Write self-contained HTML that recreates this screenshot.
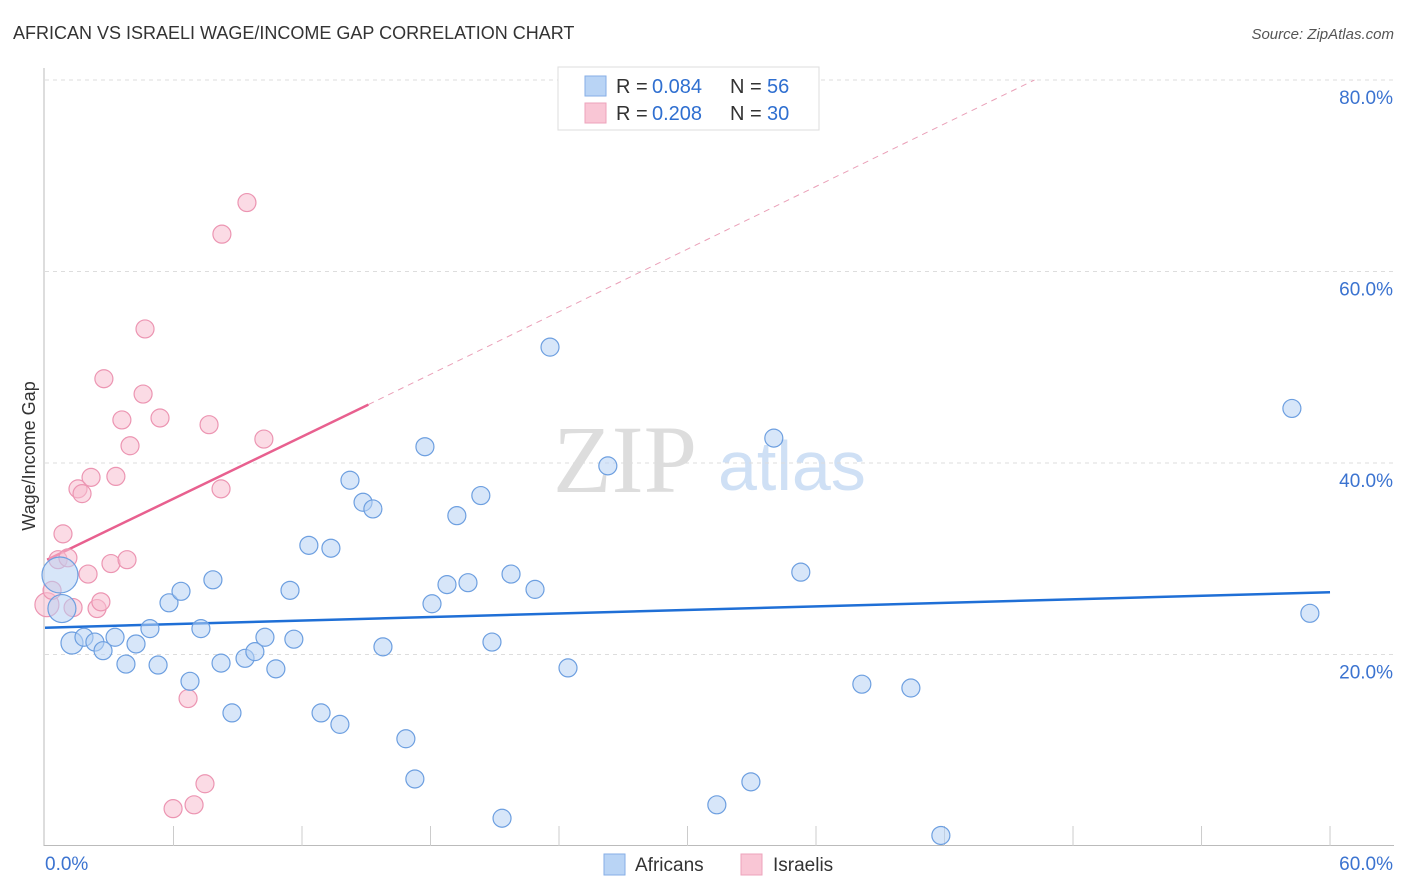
<!DOCTYPE html>
<html><head><meta charset="utf-8">
<style>
body{margin:0;background:#fff;font-family:"Liberation Sans",sans-serif;}
#wrap{position:relative;width:1406px;height:892px;overflow:hidden;}
</style></head><body>
<div id="wrap">
<svg id="svg" width="1406" height="892" xmlns="http://www.w3.org/2000/svg">
<text x="13" y="39" font-size="18" fill="#333">AFRICAN VS ISRAELI WAGE/INCOME GAP CORRELATION CHART</text>
<text x="1394" y="39" font-size="15" fill="#555" font-style="italic" text-anchor="end">Source: ZipAtlas.com</text>
<text x="35" y="456" font-size="18" fill="#333" transform="rotate(-90 35 456)" text-anchor="middle">Wage/Income Gap</text>
<g><text x="553" y="492" font-size="96" fill="#ddd" font-family="Liberation Serif,serif">ZIP</text><text x="718" y="490" font-size="70" fill="#cfe0f5">atlas</text></g>
<g id="grid"></g><g id="axes"></g><g id="lines"></g><g id="pts"></g>
<g>
<rect x="558" y="67" width="261" height="63" fill="#fff" stroke="#ddd"/>
<rect x="585" y="76" width="21" height="20" fill="#b9d4f5" stroke="#86aee6"/>
<rect x="585" y="103" width="21" height="20" fill="#f9c6d5" stroke="#eda3bb"/>
<text x="616" y="93" font-size="20" fill="#333">R = <tspan x="652" fill="#2f6fd0">0.084</tspan><tspan x="730">N = </tspan><tspan x="767" fill="#2f6fd0">56</tspan></text>
<text x="616" y="120" font-size="20" fill="#333">R = <tspan x="652" fill="#2f6fd0">0.208</tspan><tspan x="730">N = </tspan><tspan x="767" fill="#2f6fd0">30</tspan></text>
</g>
<g>
<rect x="604" y="854" width="21" height="21" fill="#b9d4f5" stroke="#86aee6"/>
<text x="635" y="871" font-size="19" fill="#333">Africans</text>
<rect x="741" y="854" width="21" height="21" fill="#f9c6d5" stroke="#eda3bb"/>
<text x="773" y="871" font-size="19" fill="#333">Israelis</text>
</g>
</svg>
</div>
<script>
const xTicks=[0,6,12,18,24,30,36,42,48,54,60];
const yTicks=[20,40,60,80];
const yTickLabels=["20.0%","40.0%","60.0%","80.0%"];
const africanX=[0.70,0.79,1.26,1.82,2.33,2.71,3.27,3.78,4.25,4.90,5.28,5.79,6.35,6.77,7.28,7.84,8.22,8.73,9.34,9.80,10.27,10.78,11.44,11.62,12.32,12.89,13.35,13.77,14.24,14.85,15.31,15.78,16.85,17.27,17.74,18.07,18.77,19.23,19.75,20.35,20.87,21.34,21.76,22.88,23.58,24.42,26.28,31.37,32.96,34.03,35.29,38.14,40.43,41.83,58.22,59.06];
const africanY=[28.3,24.8,21.2,21.8,21.3,20.4,21.8,19.0,21.1,22.7,18.9,25.4,26.6,17.2,22.7,27.8,19.1,13.9,19.6,20.3,21.8,18.5,26.7,21.6,31.4,13.9,31.1,12.7,38.2,35.9,35.2,20.8,11.2,7.0,41.7,25.3,27.3,34.5,27.5,36.6,21.3,2.9,28.4,26.8,52.1,18.6,39.7,4.3,6.7,42.6,28.6,16.9,16.5,1.1,45.7,24.3];
const israeliX=[0.09,0.33,0.61,0.84,1.07,1.31,1.54,1.73,2.01,2.15,2.43,2.61,2.75,3.08,3.31,3.59,3.83,3.97,4.58,4.67,5.37,5.98,6.68,6.96,7.47,7.66,8.22,8.26,9.43,10.22];
const israeliY=[25.2,26.7,29.9,32.6,30.1,24.9,37.3,36.8,28.4,38.5,24.8,25.5,48.8,29.5,38.6,44.5,29.9,41.8,47.2,54.0,44.7,3.9,15.4,4.3,6.5,44.0,37.3,63.9,67.2,42.5];
const africanTrend=[22.8,26.5];
const israeliTrend=[29.9,46.1,80];
const israeliTrendX=[0.1,15.1,46.2];

const X=v=>45+v*21.417, Y=v=>846-v*9.575;
const NS="http://www.w3.org/2000/svg";
function mk(tag,attrs,parent){const e=document.createElementNS(NS,tag);for(const k in attrs)e.setAttribute(k,attrs[k]);document.getElementById(parent).appendChild(e);return e;}
yTicks.forEach((t,i)=>{
  const l=mk('line',{x1:45,x2:1394,y1:Y(t),y2:Y(t),stroke:'#ddd','stroke-dasharray':'4,4'},'grid');
  
  
  const tx=mk('text',{x:1393,y:Y(t)+24,'font-size':19,fill:'#3b73d0','text-anchor':'end'},'grid');
  tx.textContent=yTickLabels[i];
  
  
});
const ax=mk('line',{x1:44,x2:44,y1:68,y2:846,stroke:'#bbb'},'axes');


const bx=mk('line',{x1:44,x2:1394,y1:845.5,y2:845.5,stroke:'#bbb'},'axes');


xTicks.slice(1).forEach(t=>{
  const l=mk('line',{x1:X(t),x2:X(t),y1:826,y2:846,stroke:'#ccc'},'axes');
  
  
});
const l0=mk('text',{x:45,y:870,'font-size':19,fill:'#3b73d0'},'axes');l0.textContent='0.0%';


const l1=mk('text',{x:1393,y:870,'font-size':19,fill:'#3b73d0','text-anchor':'end'},'axes');l1.textContent='60.0%';



function dot(x,y,r,fill,stroke,name){
  const c=mk('circle',{cx:X(x),cy:Y(y),r:r,fill:fill,'fill-opacity':0.55,stroke:stroke,'stroke-width':1.2},'pts');
  
  
}
israeliX.forEach((x,i)=>dot(x,israeliY[i],i==0?12:9,'#f7bdd0','#ec95b2','israeli-point'));
africanX.forEach((x,i)=>dot(x,africanY[i],i==0?18:(i==1?14:(i==2?11:9)),'#b7d2f4','#6d9fe0','african-point'));

const bl=mk('line',{x1:X(0),y1:Y(africanTrend[0]),x2:X(60),y2:Y(africanTrend[1]),stroke:'#1f6fd6','stroke-width':2.5},'lines');


const pl=mk('line',{x1:X(israeliTrendX[0]),y1:Y(israeliTrend[0]),x2:X(israeliTrendX[1]),y2:Y(israeliTrend[1]),stroke:'#e8608f','stroke-width':2.5},'lines');


const pd=mk('line',{x1:X(israeliTrendX[1]),y1:Y(israeliTrend[1]),x2:X(israeliTrendX[2]),y2:Y(israeliTrend[2]),stroke:'#eaa0b8','stroke-width':1,'stroke-dasharray':'6,5'},'lines');


</script>
</body></html>
